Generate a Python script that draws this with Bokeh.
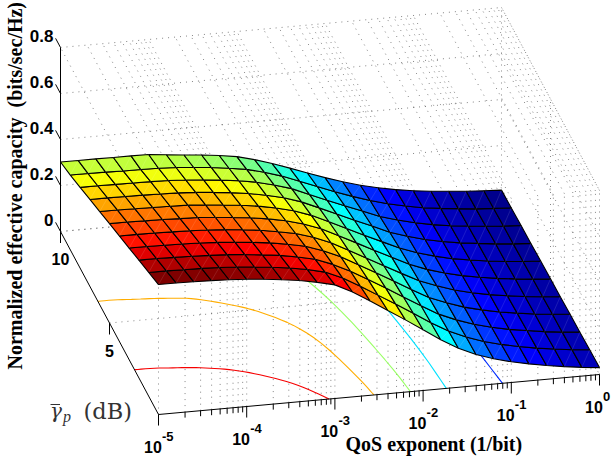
import numpy as np
from bokeh.plotting import figure
from bokeh.embed import file_html
from bokeh.resources import INLINE
from bokeh.core.properties import value

# ---- data ----
log_theta = [-5 + 0.2 * i for i in range(26)]          # 26 QoS exponents, 5 per decade
gamma_db = [0, 1, 2, 3, 4, 5, 6, 7, 8, 9, 10]
ec_0 = [.565, .565, .563, .561, .558, .553, .546, .537, .527, .512, .494, .456, .410, .362, .314, .264, .214, .170, .136, .110, .090, .074, .060, .048, .038, .030]
ec_1 = [.538, .538, .536, .535, .532, .527, .520, .512, .502, .488, .470, .437, .395, .349, .303, .256, .208, .165, .132, .106, .086, .070, .056, .045, .035, .028]
ec_2 = [.512, .512, .510, .508, .505, .501, .495, .486, .477, .463, .446, .417, .380, .337, .293, .247, .202, .159, .127, .101, .081, .065, .053, .041, .032, .025]
ec_3 = [.485, .485, .483, .482, .479, .475, .469, .461, .452, .439, .423, .397, .364, .322, .280, .237, .194, .152, .122, .096, .077, .061, .049, .038, .030, .023]
ec_4 = [.458, .458, .457, .455, .453, .449, .444, .436, .427, .414, .399, .376, .345, .305, .265, .224, .184, .145, .116, .091, .072, .057, .045, .035, .027, .020]
ec_5 = [.432, .432, .430, .429, .426, .424, .418, .410, .402, .390, .375, .354, .326, .289, .251, .212, .175, .137, .108, .085, .067, .053, .041, .032, .024, .018]
ec_6 = [.405, .405, .403, .402, .400, .398, .392, .385, .377, .366, .351, .332, .305, .270, .234, .198, .163, .128, .101, .079, .061, .048, .037, .028, .021, .016]
ec_7 = [.378, .378, .377, .376, .374, .372, .367, .360, .352, .341, .327, .309, .284, .251, .217, .183, .151, .117, .093, .072, .056, .043, .034, .025, .018, .013]
ec_8 = [.351, .351, .350, .349, .348, .346, .341, .335, .327, .317, .304, .285, .262, .230, .198, .167, .137, .106, .084, .065, .050, .038, .030, .022, .016, .011]
ec_9 = [.325, .325, .324, .322, .321, .320, .316, .309, .302, .292, .280, .261, .237, .208, .178, .148, .121, .096, .075, .058, .044, .034, .026, .018, .013, .008]
ec_10 = [.302, .302, .302, .301, .301, .300, .292, .284, .277, .268, .256, .236, .212, .185, .157, .130, .105, .083, .065, .050, .038, .029, .022, .015, .010, .006]
contour_levels = [0.5, 0.4, 0.3, 0.2, 0.1]
decades = [-5, -4, -3, -2, -1, 0]
minor_mult = [2, 3, 4, 5, 6, 7, 8, 9]
z_ticks = [0, 0.2, 0.4, 0.6, 0.8]
z_tick_labels = ["0", "0.2", "0.4", "0.6", "0.8"]
y_ticks = [5, 10]
y_tick_labels = ["5", "10"]
z_axis_title = "Normalized effective capacity"
z_axis_units = "(bits/sec/Hz)"
x_axis_title = "QoS exponent (1/bit)"

Z = np.array([ec_0, ec_1, ec_2, ec_3, ec_4, ec_5, ec_6, ec_7, ec_8, ec_9, ec_10])
LX = np.array(log_theta)
GY = np.array(gamma_db, dtype=float)
ZMIN, ZMAX, ZTOP = 0.006, 0.565, 0.8


def proj(lx, y, z):
    """Orthographic view of the box, in page pixels."""
    u = (np.asarray(lx, dtype=float) + 5) / 5
    v = np.asarray(y, dtype=float) / 10
    z = np.asarray(z, dtype=float)
    return 158 + 441 * u - 98 * v, 414 - 40 * u - 183 * v - 230 * z


def jet(t):
    t = float(np.clip(t, 0, 1))
    r = np.clip(min(4 * t - 1.5, -4 * t + 4.5), 0, 1)
    g = np.clip(min(4 * t - 0.5, -4 * t + 3.5), 0, 1)
    b = np.clip(min(4 * t + 0.5, -4 * t + 2.5), 0, 1)
    return "#%02x%02x%02x" % (int(r * 255), int(g * 255), int(b * 255))


def chaikin(x, y, n=2):
    """Round the corners of a contour traced through the grid columns."""
    x, y = np.asarray(x), np.asarray(y)
    for _ in range(n):
        qx = 0.75 * x[:-1] + 0.25 * x[1:]
        rx = 0.25 * x[:-1] + 0.75 * x[1:]
        qy = 0.75 * y[:-1] + 0.25 * y[1:]
        ry = 0.25 * y[:-1] + 0.75 * y[1:]
        x = np.concatenate([[x[0]], np.ravel(np.column_stack([qx, rx])), [x[-1]]])
        y = np.concatenate([[y[0]], np.ravel(np.column_stack([qy, ry])), [y[-1]]])
    return x, y


p = figure(width=611, height=462, x_range=(0, 611), y_range=(462, 0),
           output_backend="svg", toolbar_location=None, min_border=0,
           outline_line_color=None, background_fill_color="white")
p.axis.visible = False
p.grid.visible = False

# ---- dotted grid ----
gx, gy = [], []


def seg(a, b):
    x0, y0 = proj(*a)
    x1, y1 = proj(*b)
    gx.append([float(x0), float(x1)])
    gy.append([float(y0), float(y1)])


x_grid = [d + np.log10(m) for d in decades[:-1] for m in [1] + minor_mult] + [0]
for lx in x_grid:
    seg((lx, 0, 0), (lx, 0, ZTOP))        # wall y = 0
    seg((lx, 0, ZTOP), (lx, 10, ZTOP))    # top plane
for yy in y_ticks:
    seg((-5, yy, 0), (0, yy, 0))          # floor
    seg((0, yy, 0), (0, yy, ZTOP))        # wall x = 1
for zz in z_ticks:
    seg((-5, 10, zz), (0, 10, zz))        # wall y = 10
    seg((0, 10, zz), (0, 0, zz))          # wall x = 1
p.multi_line(gx, gy, line_color="#333333", line_width=0.8, line_alpha=0.75, line_dash="1 5")

# ---- contours on the floor ----
for lev in contour_levels:
    cu, cy = [], []
    for j in range(len(LX)):
        col = Z[:, j]
        if col[0] >= lev >= col[-1]:
            k = int(np.searchsorted(-col, -lev)) - 1
            k = max(k, 0)
            f = (col[k] - lev) / (col[k] - col[k + 1])
            cu.append(LX[j])
            cy.append(GY[k] + f)
    front = Z[0]
    j = int(np.argmax(front < lev))
    f = (front[j - 1] - lev) / (front[j - 1] - front[j])
    cu.append(LX[j - 1] + f * 0.2)
    cy.append(0.0)
    px, py = proj(cu, cy, np.zeros(len(cu)))
    px, py = chaikin(px, py)
    p.line(px, py, line_color=jet((lev - ZMIN) / (ZMAX - ZMIN)), line_width=1.1)

# ---- surface ----
xs, ys, colors, dx, dy = [], [], [], [], []
for k in range(len(GY) - 1):
    for j in range(len(LX) - 1):
        a = proj(LX[j], GY[k], Z[k, j])
        b = proj(LX[j + 1], GY[k], Z[k, j + 1])
        c = proj(LX[j + 1], GY[k + 1], Z[k + 1, j + 1])
        d = proj(LX[j], GY[k + 1], Z[k + 1, j])
        xs.append([float(a[0]), float(b[0]), float(c[0]), float(d[0])])
        ys.append([float(a[1]), float(b[1]), float(c[1]), float(d[1])])
        colors.append(jet((Z[k, j] - ZMIN) / (ZMAX - ZMIN)))
        dx.append([float(a[0]), float(c[0])])
        dy.append([float(a[1]), float(c[1])])
p.patches(xs, ys, fill_color=colors, line_color="black", line_width=1.1)
p.multi_line(dx, dy, line_color="white", line_width=0.5, line_alpha=0.22)

# ---- axes ----
ax, ay = [], []


def axl(a, b):
    x0, y0 = proj(*a)
    x1, y1 = proj(*b)
    ax.append([float(x0), float(x1)])
    ay.append([float(y0), float(y1)])


axl((-5, 0, 0), (0, 0, 0))
axl((-5, 0, 0), (-5, 10, 0))
axl((-5, 10, 0), (-5, 10, ZTOP))
for d in decades:
    axl((d, 0, 0), (d, 0, -0.048))
for d in decades[:-1]:
    for m in minor_mult:
        axl((d + np.log10(m), 0, 0), (d + np.log10(m), 0, -0.024))
for yy in y_ticks:
    axl((-5, yy, 0), (-5, yy, -0.05))
for zz in z_ticks:
    axl((-5, 10, zz), (-5, 10.5, zz))
p.multi_line(ax, ay, line_color="black", line_width=1.0)

# ---- texts ----
SANS = value("Liberation Sans")
SERIF = value("Liberation Serif")

bx, by = proj(decades, np.zeros(6), np.zeros(6))
p.text(bx - 14.5, by + 32, text=["10"] * 6, text_font=SANS, text_font_style="bold",
       text_font_size="16px", text_align="left", text_baseline="alphabetic", text_color="black")
p.text(bx + 3.5, by + 22, text=[str(d) if d else "0" for d in decades], text_font=SANS,
       text_font_style="bold", text_font_size="13px", text_align="left",
       text_baseline="alphabetic", text_color="black")

tx, ty = proj(np.full(5, -5.0), np.full(5, 10.0), z_ticks)
p.text(tx - 7, ty - 11.5, text=z_tick_labels, text_font=SANS, text_font_style="bold",
       text_font_size="17px", text_align="right", text_baseline="middle", text_color="black")
tx, ty = proj(np.full(2, -5.0), y_ticks, np.zeros(2))
p.text(tx, ty + 27.5, text=y_tick_labels, text_font=SANS, text_font_style="bold",
       text_font_size="16px", text_align="center", text_baseline="middle", text_color="black")

p.text([14.5, 14.5], [369, 107], text=[z_axis_title, z_axis_units], angle=np.pi / 2, text_font=SERIF,
       text_font_style="bold", text_font_size="20px", text_align="left",
       text_baseline="alphabetic", text_color="black")
p.text([345], [443], text=[x_axis_title], text_font=SERIF, text_font_style="bold",
       text_font_size="20px", text_align="left", text_baseline="alphabetic", text_color="black")

p.text([49.5], [410], text=["γ"], text_font=value("DejaVu Serif"), text_font_size="20px", text_font_style="italic",
       text_align="left", text_baseline="alphabetic", text_color="#333333")
p.line([50, 59.5], [404, 404], line_color="#333333", line_width=1.0)
p.text([62.5], [415.5], text=["p"], text_font=SERIF, text_font_size="16px", text_font_style="italic",
       text_align="left", text_baseline="alphabetic", text_color="#333333")
p.text([83], [410], text=["(dB)"], text_font=value("DejaVu Serif"), text_font_size="22.5px",
       text_align="left", text_baseline="alphabetic", text_color="#333333")

open("out.html", "w").write(file_html(p, INLINE))
